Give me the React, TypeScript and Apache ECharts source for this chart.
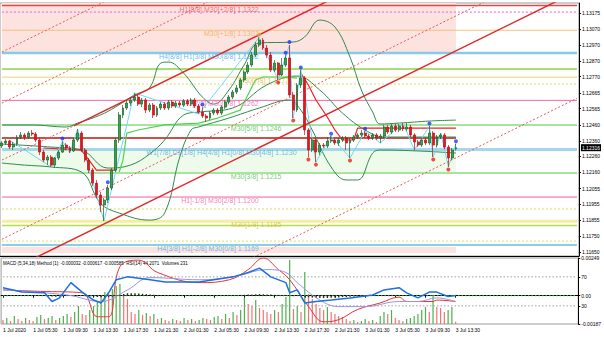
import React, { useEffect, useRef } from "react";
import * as echarts from "echarts";

const barCount = 153;
const xTickLabels = ["1 Jul 2020","1 Jul 05:30","1 Jul 09:30","1 Jul 13:30","1 Jul 17:30","1 Jul 21:30","2 Jul 01:30","2 Jul 05:30","2 Jul 09:30","2 Jul 13:30","2 Jul 17:30","2 Jul 21:30","3 Jul 01:30","3 Jul 05:30","3 Jul 09:30","3 Jul 13:30"];
const priceTicks = [1.13175,1.13070,1.12970,1.12870,1.12770,1.12665,1.12565,1.12460,1.12360,1.12260,1.12160,1.12055,1.11955,1.11855,1.11750,1.11650];
const priceMin = 1.11625;
const priceMax = 1.13239;
const lastPrice = 1.12316;

const open = [
1.12327,1.12346,1.12358,1.12320,1.12339,1.12384,1.12397,1.12384,1.12409,1.12403,
1.12365,1.12288,1.12237,1.12256,1.12205,1.12250,1.12288,1.12333,1.12314,1.12295,
1.12365,1.12409,1.12301,1.12237,1.12173,1.12090,1.12014,1.11950,1.11982,1.12059,
1.12173,1.12365,1.12524,1.12569,1.12601,1.12620,1.12639,1.12594,1.12620,1.12556,
1.12588,1.12524,1.12569,1.12594,1.12569,1.12607,1.12582,1.12601,1.12588,1.12614,
1.12594,1.12620,1.12582,1.12543,1.12518,1.12505,1.12537,1.12556,1.12537,1.12575,
1.12607,1.12639,1.12671,1.12697,1.12748,1.12799,1.12843,1.12907,1.12971,1.13003,
1.12952,1.12907,1.12811,1.12856,1.12780,1.12843,1.12888,1.12652,1.12556,1.12716,
1.12760,1.12429,1.12301,1.12365,1.12288,1.12333,1.12327,1.12358,1.12365,1.12346,
1.12365,1.12378,1.12346,1.12365,1.12384,1.12397,1.12409,1.12390,1.12378,1.12397,
1.12378,1.12390,1.12448,1.12416,1.12454,1.12429,1.12454,1.12435,1.12448,1.12397,
1.12352,1.12333,1.12365,1.12346,1.12409,1.12333,1.12384,1.12397,1.12320,1.12250,
1.12309];
const close = [
1.12346,1.12358,1.12320,1.12339,1.12384,1.12397,1.12384,1.12409,1.12403,1.12365,
1.12288,1.12237,1.12256,1.12205,1.12250,1.12288,1.12333,1.12314,1.12295,1.12365,
1.12409,1.12301,1.12237,1.12173,1.12090,1.12014,1.11950,1.11982,1.12059,1.12173,
1.12365,1.12524,1.12569,1.12601,1.12620,1.12639,1.12594,1.12620,1.12556,1.12588,
1.12524,1.12569,1.12594,1.12569,1.12607,1.12582,1.12601,1.12588,1.12614,1.12594,
1.12620,1.12582,1.12543,1.12518,1.12505,1.12537,1.12556,1.12537,1.12575,1.12607,
1.12639,1.12671,1.12697,1.12748,1.12799,1.12843,1.12907,1.12971,1.13003,1.12952,
1.12907,1.12811,1.12856,1.12780,1.12843,1.12888,1.12652,1.12556,1.12716,1.12760,
1.12429,1.12301,1.12365,1.12288,1.12333,1.12327,1.12358,1.12365,1.12346,1.12365,
1.12378,1.12346,1.12365,1.12384,1.12397,1.12409,1.12390,1.12378,1.12397,1.12378,
1.12390,1.12448,1.12416,1.12454,1.12429,1.12454,1.12435,1.12448,1.12397,1.12352,
1.12333,1.12365,1.12346,1.12409,1.12333,1.12384,1.12397,1.12320,1.12250,1.12301,
1.12316];
const high = [
1.12358,1.12371,1.12365,1.12352,1.12397,1.12416,1.12409,1.12422,1.12429,1.12416,
1.12378,1.12301,1.12269,1.12269,1.12256,1.12301,1.12358,1.12346,1.12327,1.12378,
1.12435,1.12422,1.12314,1.12250,1.12186,1.12110,1.12033,1.11995,1.12078,1.12186,
1.12378,1.12543,1.12588,1.12620,1.12639,1.12665,1.12652,1.12633,1.12633,1.12601,
1.12601,1.12582,1.12607,1.12607,1.12620,1.12620,1.12614,1.12614,1.12626,1.12626,
1.12633,1.12633,1.12594,1.12575,1.12531,1.12550,1.12569,1.12569,1.12588,1.12620,
1.12652,1.12684,1.12716,1.12760,1.12811,1.12862,1.12926,1.12990,1.13021,1.13016,
1.12971,1.12926,1.12875,1.12862,1.12888,1.12907,1.12971,1.12671,1.12728,1.12811,
1.12773,1.12441,1.12378,1.12378,1.12346,1.12346,1.12384,1.12390,1.12378,1.12378,
1.12390,1.12390,1.12378,1.12397,1.12409,1.12429,1.12422,1.12403,1.12409,1.12409,
1.12403,1.12461,1.12461,1.12467,1.12467,1.12467,1.12473,1.12473,1.12461,1.12409,
1.12365,1.12378,1.12378,1.12454,1.12422,1.12397,1.12409,1.12409,1.12333,1.12314,
1.12341];
const low = [
1.12314,1.12333,1.12307,1.12301,1.12327,1.12371,1.12365,1.12371,1.12390,1.12352,
1.12269,1.12224,1.12205,1.12193,1.12186,1.12237,1.12282,1.12301,1.12282,1.12288,
1.12352,1.12288,1.12224,1.12154,1.12071,1.11995,1.11905,1.11848,1.11963,1.12046,
1.12161,1.12346,1.12505,1.12556,1.12582,1.12607,1.12582,1.12575,1.12537,1.12543,
1.12505,1.12512,1.12556,1.12556,1.12556,1.12569,1.12569,1.12575,1.12575,1.12582,
1.12582,1.12569,1.12531,1.12505,1.12480,1.12492,1.12524,1.12524,1.12524,1.12563,
1.12594,1.12626,1.12658,1.12684,1.12735,1.12786,1.12831,1.12894,1.12958,1.12939,
1.12888,1.12799,1.12799,1.12748,1.12773,1.12831,1.12639,1.12505,1.12543,1.12697,
1.12397,1.12256,1.12288,1.12224,1.12269,1.12314,1.12314,1.12346,1.12333,1.12327,
1.12352,1.12301,1.12250,1.12352,1.12371,1.12384,1.12378,1.12365,1.12365,1.12365,
1.12346,1.12378,1.12403,1.12403,1.12416,1.12416,1.12422,1.12422,1.12384,1.12301,
1.12320,1.12320,1.12333,1.12333,1.12256,1.12320,1.12371,1.12307,1.12193,1.12237,
1.12298];

const volumes = [
400,600,300,800,500,300,600,400,300,700,900,500,600,800,400,600,
800,1000,700,1200,1800,1000,900,
1400,1800,2200,2800,3200,3000,3500,
3800,4000,3000,2500,
1200,1000,1400,900,1100,800,1000,
500,600,400,300,500,400,300,600,400,500,300,400,
600,500,400,700,800,500,1000,600,1200,900,1400,
2600,2000,1800,2400,1600,1400,1200,
1000,1400,1200,2000,2700,6400,
1500,1800,1200,5200,
3000,2500,2000,1600,1400,1700,1200,1000,800,700,
500,300,400,200,300,500,300,400,200,
800,1200,1000,1400,600,400,300,500,
600,800,1000,1400,1700,1200,2900,1700,1600,1200,1400,1700,231];

const macdHist = [
0.000013,0.000013,0.00002,0.000013,0.000013,0.00002,0.00002,0.000013,0.000013,0.000007,0,
-0.00002,-0.00004,-0.000059,-0.000066,-0.000053,
-0.000033,-0.00002,-0.000013,-0.000007,0,-0.000013,
-0.000033,-0.000053,-0.000073,-0.000092,-0.000106,-0.000112,-0.000099,-0.000066,-0.000026,
0.000053,0.000119,0.000158,
0.000165,0.000158,0.000145,0.000125,0.000106,0.000086,
0.000066,0.000046,0.000033,0.00002,0.000013,0.000007,
0.000007,0,0.000007,0.000007,0,0.000007,0,
0.000007,0.000007,0,0.000007,0.000013,0.000013,0.00002,0.000026,0.000033,0.000046,0.000053,
0.000059,0.000073,0.000086,0.000099,0.000106,0.000099,0.000086,0.000073,0.000059,0.000053,0.000046,0.00004,0.00002,
-0.000033,-0.00002,-0.000013,-0.000066,-0.000106,-0.000125,-0.000145,-0.000152,-0.000158,-0.000152,-0.000139,-0.000125,-0.000112,-0.000092,-0.000079,-0.000066,-0.000053,-0.00004,-0.000026,-0.00002,-0.000013,-0.000007,
-0.000007,0,0.000007,0.000007,0.000013,0.000013,0.000013,0.000013,0.000013,0.000007,0,0,0,0,0.000007,0,0,0,-0.000007,-0.00002,-0.000026,-0.000032];

const rsiLine = [[0,55],[5,49],[11,48],[13,36],[15,41],[18,62],[21,49],[24,38],[26,34],[28,48],[30,66],[33,70],[39,66],[43,63],[52,63],[61,70],[65,76],[68,82],[71,70],[75,62],[76,48],[78,52],[80,34],[83,36],[87,38],[92,41],[98,45],[101,52],[105,55],[107,48],[110,41],[113,49],[115,49],[118,43],[120,44.2]];
const redLine = [[0,52],[10,50],[21,48],[25,15],[28,15],[31,84],[36,93],[41,76],[52,62],[60,66],[65,80],[69,96],[73,80],[76,66],[81,29],[85,8],[89,11],[94,25],[100,34],[105,42],[107,36],[114,36],[115,38],[120,36]];
const purpleLine = [[0,52],[17,45],[26,36],[33,52],[39,69],[52,66],[61,70],[70,80],[75,76],[78,62],[84,38],[89,29],[96,29],[105,36],[110,36],[115,41],[120,36]];
const rsiLevels = [70, 30];
const macdZero = 0;

const bbUpper = [[0,1.12461],[8,1.12461],[17,1.12448],[20,1.12473],[26,1.12524],[30,1.12575],[35,1.12652],[39,1.12697],[42,1.12856],[44,1.12862],[48,1.12792],[53,1.12639],[56,1.12594],[60,1.12684],[64,1.12843],[68,1.12984],[77,1.12990],[80,1.13022],[84,1.13130],[88,1.13086],[92,1.12894],[95,1.12684],[98,1.12543],[100,1.12467],[105,1.12473],[113,1.12486],[120,1.12492]];
const bbMiddle = [[0,1.12339],[13,1.12320],[21,1.12301],[28,1.12186],[34,1.12205],[39,1.12275],[43,1.12365],[48,1.12524],[52,1.12543],[61,1.12569],[70,1.12716],[78,1.12773],[84,1.12684],[90,1.12537],[96,1.12429],[101,1.12384],[110,1.12384],[120,1.12384]];
const bbLower = [[0,1.12218],[6,1.12205],[13,1.12193],[21,1.12161],[26,1.11963],[31,1.11899],[39,1.11854],[43,1.11899],[47,1.12256],[50,1.12429],[52,1.12448],[60,1.12505],[68,1.12569],[76,1.12620],[79,1.12556],[82,1.12429],[87,1.12193],[91,1.12110],[94,1.12110],[98,1.12282],[100,1.12301],[110,1.12295],[120,1.12282]];

const trailRed1 = [[11,1.12314],[21,1.12301],[23,1.12237],[25,1.12173],[30,1.12173]];
const trailGreen = [[31,1.12161],[32,1.12237],[33,1.12409],[36,1.12429],[43,1.12461],[52,1.12473],[57,1.12505],[63,1.12556],[67,1.12748],[69,1.12767],[75,1.12767],[78,1.12760]];
const trailRed2 = [[79,1.12792],[81,1.12716],[83,1.12620],[86,1.12512],[88,1.12429],[90,1.12365],[93,1.12365],[94,1.12441],[120,1.12441]];
const pivotLevel = 1.12378;

const zigzag = [[2,1.12365],[13,1.12193],[16,1.12358],[18,1.12282],[20,1.12435],[27,1.11848],[35,1.12665],[52,1.12531],[68,1.13021],[73,1.12748],[76,1.12971],[77,1.12505],[79,1.12811],[83,1.12224],[87,1.12390],[92,1.12250],[96,1.12422],[100,1.12346],[106,1.12473],[109,1.12301],[113,1.12454],[114,1.12256],[116,1.12409],[118,1.12193],[120,1.12341]];

const swingHighs = [[16,1.12375],[28,1.12095],[53,1.12592],[75,1.12922],[76,1.12990],[79,1.12828],[87,1.12405],[96,1.12437],[113,1.12470],[120,1.12357]];
const swingLows = [[73,1.12732],[77,1.12490],[81,1.12240],[83,1.12208],[92,1.12234],[114,1.12240],[118,1.12177]];
const peakDot = [[68,1.13036]];

const trendSolid = [
  [[19,1.12455],[100,1.13416]],
  [[5,1.11568],[150,1.13290]],
];
const trendDotted = [
  [[0,1.12237],[19,1.12455]],
  [[0,1.12926],[150,1.14707]],
  [[0,1.12600],[150,1.14381]],
  [[0,1.11732],[150,1.13513]],
  [[0,1.10827],[152,1.12631]],
];

const levelValues = [1.13223,1.13181,1.13065,1.12920,1.12818,1.12765,1.12722,1.12618,1.12461,1.12305,1.12154,1.12001,1.11925,1.11846,1.11819,1.11720,1.11695];
const levelStyles = [
  { c: "#e04848", w: 1.5, t: "solid" },
  { c: "#f25ae6", w: 1, t: "dotted" },
  { c: "#f6c27c", w: 1, t: "solid" },
  { c: "#86cbe6", w: 2.5, t: "solid" },
  { c: "#a9e070", w: 2, t: "solid" },
  { c: "#f1e39c", w: 1.5, t: "solid" },
  { c: "#cfe25a", w: 1, t: "dotted" },
  { c: "#f06aa8", w: 1, t: "solid" },
  { c: "#a8e3a2", w: 2, t: "solid" },
  { c: "#a5d6ea", w: 3, t: "solid" },
  { c: "#a8e3a2", w: 2, t: "solid" },
  { c: "#ee5f9f", w: 1, t: "solid" },
  { c: "#cfe25a", w: 1, t: "dotted" },
  { c: "#f4ee9e", w: 3, t: "solid" },
  { c: "#b4e04c", w: 1.5, t: "solid" },
  { c: "#cfe25a", w: 1, t: "dotted" },
  { c: "#5fbfe5", w: 1.5, t: "solid" },
];

const levelLabelTexts = ["H1[8/8] M30[+2/8] 1.1322","M30[+1/8] 1.1307","H4[8/8] H1[3/8] M30[8/8] 1.1292","M30[7/8] 1.1277","H1[7/8] M30[6/8] 1.1262","M30[5/8] 1.1246","W1[7/8] D1[1/8] H4[4/8] H1[0/8] M30[4/8] 1.1230","M30[3/8] 1.1215","H1[-1/8] M30[2/8] 1.1200","M30[1/8] 1.1185","H4[3/8] H1[-2/8] M30[0/8] 1.1169"];
const levelLabelValues = [1.13223,1.13065,1.12920,1.12765,1.12618,1.12461,1.12305,1.12154,1.12001,1.11846,1.11695];
const levelLabelIdx = [68,68,68,76,68,74,78,74,68,74,68];
const levelLabelColors = ["#e8505a","#f0a848","#4aa8dc","#e0ac3c","#f060a8","#4fbf4f","#4aa8dc","#4fbf4f","#f060a8","#d4bc2c","#4aa8dc"];

const bandTop = [1.12926, 1.13239];
const bandMid = [1.12154, 1.12301];
const bandBottom = [1.11644, 1.11682];
const bandEndIdx = 120;

const FONT = "Liberation Sans, Arial, sans-serif";

function buildOption() {
  const categories = Array.from({ length: barCount }, (_, i) => String(i));
  const lastIdx = barCount - 1;
  const showTick = (i: number) => i % 8 === 0 && i / 8 < xTickLabels.length;
  const candleData = open.map((o, i) => [o, close[i], low[i], high[i]]);
  const volData = volumes.map((v, i) => ({
    value: v,
    itemStyle: { color: i > 0 && v > volumes[i - 1] ? "#4db04d" : "#ef7474" },
  }));
  const line = (xi: number, yi: number, data: any, color: string, width: number, extra: any = {}) => ({
    type: "line", xAxisIndex: xi, yAxisIndex: yi, data, symbol: "none", silent: true,
    lineStyle: { color, width, ...(extra.lineStyle || {}) }, z: extra.z ?? 3,
    smooth: extra.smooth ?? false,
  });
  const mainLine = (data: any, color: string, width: number, extra: any = {}) => line(0, 0, data, color, width, extra);

  const series: any[] = [
    {
      type: "line", xAxisIndex: 0, yAxisIndex: 0, data: [[0, pivotLevel]], symbol: "none",
      lineStyle: { opacity: 0 }, z: 0, silent: true,
      markArea: {
        silent: true,
        data: [
          [{ xAxis: 0, yAxis: bandTop[0], itemStyle: { color: "#fde3df" } }, { xAxis: bandEndIdx, yAxis: bandTop[1] }],
          [{ xAxis: 0, yAxis: bandMid[0], itemStyle: { color: "#eefbea" } }, { xAxis: bandEndIdx, yAxis: bandMid[1] }],
          [{ xAxis: 0, yAxis: bandBottom[0], itemStyle: { color: "#fde3df" } }, { xAxis: bandEndIdx, yAxis: bandBottom[1] }],
        ],
      },
    },
    ...levelValues.map((v, i) =>
      mainLine([[0, v], [lastIdx, v]], levelStyles[i].c, levelStyles[i].w, {
        z: 1, lineStyle: { type: levelStyles[i].t === "dotted" ? [2, 2] : "solid" },
      })
    ),
    mainLine([[0, pivotLevel], [bandEndIdx, pivotLevel]], "#c9504c", 2, { z: 2 }),
    mainLine(bbUpper, "#2f8a50", 1, { smooth: 0.4 }),
    mainLine(bbMiddle, "#2f8a50", 1, { smooth: 0.4 }),
    mainLine(bbLower, "#2f8a50", 1, { smooth: 0.4 }),
    mainLine(trailRed1, "#ee2222", 1.2),
    mainLine(trailGreen, "#4fd24f", 1.2),
    mainLine(trailRed2, "#ee2222", 1.2),
    mainLine(zigzag, "#70d8f5", 1),
    ...trendSolid.map((d) => mainLine(d, "#e02a2a", 1.5)),
    ...trendDotted.map((d) => mainLine(d, "#e85a5a", 1, { lineStyle: { type: [2, 2] } })),
    {
      type: "scatter", xAxisIndex: 0, yAxisIndex: 0, symbolSize: 1, z: 4, silent: true,
      itemStyle: { color: "transparent" },
      data: levelLabelTexts.map((t, i) => ({
        value: [levelLabelIdx[i], levelLabelValues[i]],
        label: { formatter: t, color: levelLabelColors[i] },
      })),
      label: { show: true, position: "left", distance: 0, offset: [0, 3.5], fontSize: 7, fontFamily: FONT },
    },
    {
      type: "candlestick", xAxisIndex: 0, yAxisIndex: 0, data: candleData, barWidth: 2.4, z: 5, silent: true,
      itemStyle: { color: "#33a84a", color0: "#e8161b", borderColor: "#1d5e2a", borderColor0: "#b81317", borderWidth: 0.7 },
    },
    { type: "scatter", xAxisIndex: 0, yAxisIndex: 0, data: swingHighs, symbolSize: 4, itemStyle: { color: "#1d3cf0" }, z: 6, silent: true },
    { type: "scatter", xAxisIndex: 0, yAxisIndex: 0, data: swingLows, symbolSize: 4, itemStyle: { color: "#f01e1e" }, z: 6, silent: true },
    { type: "scatter", xAxisIndex: 0, yAxisIndex: 0, data: peakDot, symbolSize: 4, itemStyle: { color: "#f0a030" }, z: 6, silent: true },
    // indicator pane
    { type: "bar", xAxisIndex: 2, yAxisIndex: 3, data: volData, barWidth: 1.2, z: 1, silent: true },
    line(1, 2, rsiLevels.map(() => null), "#000", 0),
    ...rsiLevels.map((lv) => line(1, 2, [[0, lv], [lastIdx, lv]], "#a0a0a0", 1, { z: 1, lineStyle: { type: [1.5, 2] } })),
    line(1, 1, [[0, macdZero], [lastIdx, macdZero]], "#2fbf2f", 1, { z: 1, lineStyle: { type: [1.5, 2] } }),
    { type: "bar", xAxisIndex: 1, yAxisIndex: 1, data: macdHist, barWidth: 1.4, z: 2, silent: true, itemStyle: { color: "#2b2b2b" } },
    line(1, 2, redLine, "#e63333", 1, { smooth: 0.4 }),
    line(1, 2, purpleLine, "#9b93e6", 1, { smooth: 0.4 }),
    line(1, 2, rsiLine, "#1f6fe0", 1.5, { z: 4 }),
  ];

  const axisText = { fontSize: 5, color: "#000", fontFamily: FONT };
  return {
    animation: false,
    backgroundColor: "#ffffff",
    textStyle: { fontFamily: FONT },
    grid: [
      { left: 0, right: 23, top: 3, height: 253, show: true, borderColor: "#9a9a9a", borderWidth: 1 },
      { left: 0, right: 23, top: 258, height: 66, show: true, borderColor: "#9a9a9a", borderWidth: 1 },
    ],
    xAxis: [
      { type: "category", gridIndex: 0, data: categories, boundaryGap: true, axisLabel: { show: false }, axisTick: { show: false }, axisLine: { show: true, lineStyle: { color: "#000" } }, splitLine: { show: false } },
      {
        type: "category", gridIndex: 1, data: categories, boundaryGap: true,
        axisLabel: { ...axisText, show: true, interval: (i: number) => showTick(i), formatter: (v: string) => xTickLabels[Number(v) / 8], align: "left", margin: 3 },
        axisTick: { show: true, interval: (i: number) => showTick(i), alignWithLabel: true, length: 2, lineStyle: { color: "#000" } },
        axisLine: { show: true, lineStyle: { color: "#000" } }, splitLine: { show: false },
      },
      { type: "category", gridIndex: 1, data: categories, boundaryGap: true, show: false },
    ],
    yAxis: [
      {
        type: "value", gridIndex: 0, position: "right", min: priceMin, max: priceMax, splitLine: { show: false },
        axisLine: { show: true, lineStyle: { color: "#000" } },
        axisTick: { show: true, customValues: priceTicks, length: 2, lineStyle: { color: "#000" } },
        axisLabel: { ...axisText, show: true, customValues: priceTicks, formatter: (v: number) => v.toFixed(5), margin: 3 },
      },
      {
        type: "value", gridIndex: 1, position: "right", min: -0.00187, max: 0.00249, splitLine: { show: false },
        axisLine: { show: true, lineStyle: { color: "#000" } },
        axisTick: { show: true, customValues: [0.00249, 0, -0.00187], length: 2, lineStyle: { color: "#000" } },
        axisLabel: { ...axisText, show: true, customValues: [0.00249, 0, -0.00187], formatter: (v: number) => (v === 0 ? "0.00" : v.toFixed(5)), margin: 3 },
      },
      {
        type: "value", gridIndex: 1, position: "right", min: 5, max: 96, splitLine: { show: false },
        axisLine: { show: false },
        axisTick: { show: true, customValues: rsiLevels, length: 2, lineStyle: { color: "#000" } },
        axisLabel: { ...axisText, show: true, customValues: rsiLevels, formatter: (v: number) => String(v), margin: 3 },
      },
      { type: "value", gridIndex: 1, min: 0, max: 6600, show: false },
      {
        type: "value", gridIndex: 0, position: "right", min: priceMin, max: priceMax, splitLine: { show: false },
        axisLine: { show: false }, axisTick: { show: false },
        axisLabel: { ...axisText, show: true, customValues: [lastPrice], formatter: (v: number) => v.toFixed(5), margin: 2, color: "#fff", backgroundColor: "#000", padding: [1, 1] },
      },
    ],
    graphic: [
      { type: "text", x: 3, y: 2.5, silent: true, style: { text: "▼ EURUSD,M30  1.12309 1.12341 1.12298 1.12316", fontSize: 4.5, fontFamily: FONT, fill: "#000", verticalAlign: "top" } },
      { type: "text", x: 3, y: 8.5, silent: true, style: { text: "H 1.13021  L 1.11848", fontSize: 4.5, fontFamily: FONT, fill: "#000", verticalAlign: "top" } },
      { type: "text", x: 3, y: 260.5, silent: true, style: { text: "MACD (5,34,18) Method [1]: -0.000032 -0.000617 -0.000585  RSI(14) 44.2071  Volumes 231", fontSize: 4.5, fontFamily: FONT, fill: "#000", verticalAlign: "top" } },
    ],
    series,
  };
}

export default function App() {
  const ref = useRef<HTMLDivElement>(null);
  useEffect(() => {
    document.body.style.margin = "0";
    if (!ref.current) return;
    const chart = echarts.init(ref.current, null, { renderer: "svg" });
    chart.setOption(buildOption() as any);
    return () => chart.dispose();
  }, []);
  return <div ref={ref} style={{ width: 604, height: 337, background: "#fff" }} />;
}
